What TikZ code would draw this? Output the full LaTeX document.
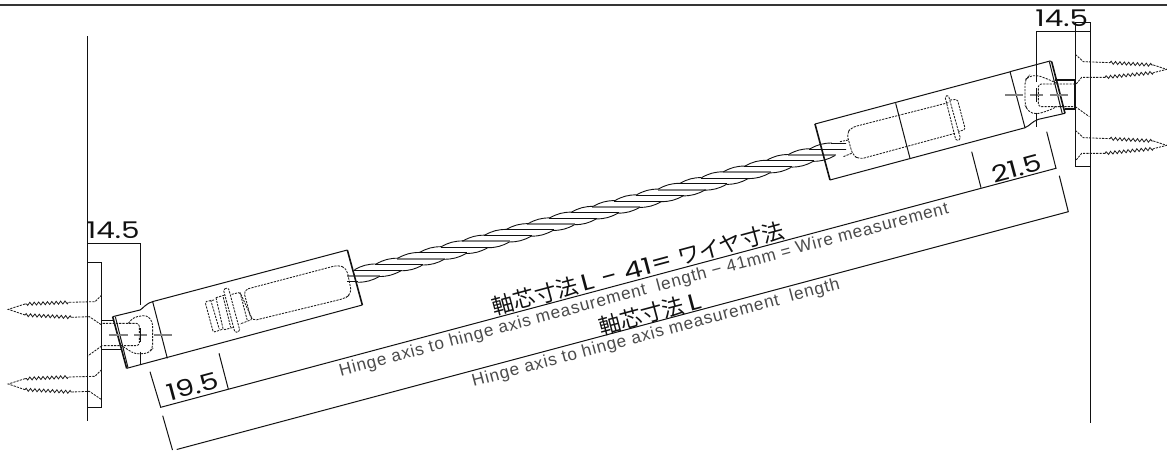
\documentclass[tikz,border=0pt]{standalone}
\usepackage{fontspec}
\usepackage{graphicx}
\usetikzlibrary{decorations.pathmorphing}
\setmainfont{Poppins}
\newfontfamily\jpfont{Noto Sans CJK JP}
\newfontfamily\enfont[LetterSpace=5]{Liberation Sans}
\definecolor{inkc}{HTML}{111111}
\definecolor{hid}{HTML}{1C1C1C}
\definecolor{ent}{HTML}{4A4A4A}
\newcommand{\widen}[1]{\scalebox{1.28}[1]{#1}}
\begin{document}
\begin{tikzpicture}[x=1pt,y=-1pt,
  solid line/.style={draw=inkc,line width=1pt},
  heavy line/.style={draw=inkc,line width=1.6pt},
  hidden line/.style={draw=hid,line width=0.85pt,dash pattern=on 2.2pt off 1.1pt},
  center line/.style={draw=gray,line width=1.3pt},
  teeth/.style={draw=hid,line width=0.8pt,decorate,decoration={zigzag,segment length=4.4pt,amplitude=1.5pt}},
  dimtext/.style={inner sep=0pt,text=inkc,font=\fontsize{23}{23}\selectfont},
  jptext/.style={inner sep=0pt,rotate=15,text=inkc,font=\jpfont\fontsize{22}{22}\selectfont},
  entext/.style={inner sep=0pt,rotate=15,text=ent,font=\enfont\fontsize{17.2}{18}\selectfont}]
\useasboundingbox (0,0) rectangle (1167,450);
\fill[white] (0,0) rectangle (1167,450);
\draw[draw=inkc!85,line width=1.6pt] (0,4.7) -- (1167,4.7);

% walls and plates
\draw[solid line] (87.7,36) -- (87.7,421);
\draw[solid line] (87.7,262.7) -- (101.7,262.7) -- (101.7,407.3) -- (87.7,407.3);
\draw[solid line] (1090,22.3) -- (1090,423);
\draw[solid line] (1090,22.3) -- (1075.3,22.3) -- (1075.3,166.7) -- (1090,166.7);

% wire
\begin{scope}
\clip (347,262) -- (347,295) -- (370,295) -- (846,170) -- (846,135) -- (825,135) -- cycle;
\foreach \i in {-6,...,26}{
  \pgfmathsetmacro\cx{356+21.7*\i}
  \pgfmathsetmacro\cy{276-5.76*\i}
  \pgfmathtruncatemacro\m{mod(\i+30,3)}
  \ifnum\m=0
    \draw[draw=gray,line width=2pt] (\cx-24,\cy) -- (\cx+24,\cy);
  \else
    \draw[draw=inkc,line width=1pt] (\cx-24,\cy) -- (\cx+24,\cy);
  \fi
}
\end{scope}
\foreach \i in {0,...,21}{
  \pgfmathsetmacro\ax{356+21.7*\i}
  \pgfmathsetmacro\ay{276-5.76*\i}
  \pgfmathsetmacro\bx{356+21.7*(\i+1)}
  \pgfmathsetmacro\by{276-5.76*(\i+1)}
  \draw[draw=inkc,line width=0.9pt] (\ax-1.5,\ay-6.3) to[bend left=14] (\bx-1.5,\by-6.3);
  \draw[draw=inkc,line width=0.9pt] (\ax+1.5,\ay+6.3) to[bend right=14] (\bx+1.5,\by+6.3);
}

% left body (zoom 1 coordinates)
\begin{scope}[shift={(0,220)},scale=0.33333]
  \draw[solid line] (457,245) -- (1042,90);
  \draw[solid line] (380,445) -- (1087,255);
  \draw[heavy line] (1042,90) -- (1087,255);
  \foreach \dy in {0,224}{
    \begin{scope}[shift={(0,\dy)}]
      \draw[hidden line] (305,225) -- (285,245) -- (205,247);
      \path[teeth] (205,247) -- (75,252);
      \draw[hidden line] (75,252) -- (25,268) -- (75,285);
      \path[teeth] (75,285) -- (215,292);
      \draw[hidden line] (215,292) -- (268,290) -- (305,315);
    \end{scope}
  }
  \draw[hidden line] (305,378) -- (263,408);
  % dimensions
  \draw[solid line] (263,70) -- (422,70) -- (422,255);
  \draw[solid line] (422,395) -- (422,435);
\end{scope}

% left hinge (zoom 6 coordinates)
\begin{scope}[shift={(90,290)},scale=0.33333]
  \draw[solid line] (68,80) -- (150,60) .. controls (160,55) and (165,42) .. (188,35) -- (232,205);
  \draw[heavy line] (68,80) -- (110,235);
  \draw[solid line] (76,80) -- (114,233);
  \draw[heavy line] (70,92) -- (35,92) -- (35,178) -- (92,178);
  \draw[hidden line,rounded corners=3pt] (38,100) -- (148,100) -- (148,167) -- (38,167);
  \draw[hidden line,rounded corners=4pt] (115,100) -- (130,82) -- (170,75) -- (188,95) -- (188,175) -- (175,190) -- (135,192) -- (115,180) -- (100,170);
  \draw[center line] (58,135) -- (113,135);
  \draw[center line] (133,135) -- (172,135);
  \draw[center line] (192,135) -- (245,135);
  \draw[solid line] (152,115) -- (152,155);
\end{scope}

% left inner parts (zoom 7 coordinates)
\begin{scope}[shift={(190,250)},scale=0.33333]
  \draw[hidden line,rounded corners=5pt] (160,120) -- (445,45) -- (470,55) -- (485,130) -- (465,145) -- (185,213) -- cycle;
  \draw[hidden line,rounded corners=1.5pt] (100,118) -- (115,113) -- (150,243) -- (135,248) -- cycle;
  \draw[hidden line,rounded corners=1.5pt] (125,133) -- (150,127) -- (187,208) -- (150,222);
  \draw[hidden line,rounded corners=1.5pt] (78,143) -- (105,135);
  \draw[hidden line,rounded corners=1.5pt] (78,143) -- (100,240) -- (130,232);
  \draw[hidden line] (100,142) -- (122,232);
  \draw[hidden line,rounded corners=1.5pt] (72,150) -- (45,155) -- (70,247) -- (97,238);
  \draw[hidden line] (62,150) -- (88,238);
  \draw[hidden line] (150,127) -- (172,212);
\end{scope}

% right body (zoom 2 coordinates)
\begin{scope}[shift={(800,0)},scale=0.33333]
  \draw[solid line] (45,372) -- (632,215);
  \draw[solid line] (90,540) -- (676,383);
  \draw[heavy line] (45,372) -- (90,540);
  \draw[solid line] (287,310) -- (330,475);
  \foreach \dy in {0,228}{
    \begin{scope}[shift={(0,\dy)}]
      \draw[hidden line] (826,163) -- (850,185) -- (930,188);
      \path[teeth] (930,188) -- (1060,195);
      \draw[hidden line] (1060,195) -- (1100,208) -- (1060,218);
      \path[teeth] (1060,218) -- (915,232);
      \draw[hidden line] (915,232) -- (845,232) -- (826,255);
    \end{scope}
  }
  \draw[hidden line] (826,320) -- (868,350);
  \draw[solid line] (709,245) -- (709,95) -- (870,95);
  \draw[solid line] (709,338) -- (709,380);
\end{scope}

% right hinge (zoom 9 coordinates)
\begin{scope}[shift={(1000,55)},scale=0.33333]
  \draw[solid line] (30,50) -- (150,18) -- (155,20);
  \draw[heavy line] (155,20) -- (195,175);
  \draw[solid line] (148,20) -- (187,177);
  \draw[solid line] (30,50) -- (75,218) .. controls (90,212) and (95,200) .. (115,193) -- (195,175);
  \draw[heavy line] (165,75) -- (225,75) -- (225,162) -- (195,162);
  \draw[hidden line,rounded corners=3pt] (225,87) -- (115,87) -- (115,155) -- (225,155);
  \draw[hidden line,rounded corners=4pt] (170,85) -- (150,75) -- (110,60) -- (85,65) -- (75,75) -- (75,150) -- (85,170) -- (110,178) -- (150,165) -- (170,155);
  \draw[center line] (15,120) -- (70,120);
  \draw[center line] (90,120) -- (130,120);
  \draw[center line] (150,120) -- (205,120);
  \draw[solid line] (109,100) -- (109,140);
\end{scope}

% right inner parts (zoom 8 coordinates)
\begin{scope}[shift={(820,90)},scale=0.33333]
  \draw[hidden line,rounded corners=5pt] (385,38) -- (95,112) -- (80,130) -- (98,195) -- (118,208) -- (405,130);
  \draw[hidden line,rounded corners=1.5pt] (375,20) -- (385,15) -- (422,148) -- (408,152) -- cycle;
  \draw[hidden line,rounded corners=1.5pt] (390,30) -- (412,28) -- (436,118) -- (415,125);
  \draw[hidden line] (85,150) -- (60,155);
  \draw[hidden line] (95,190) -- (70,200);
\end{scope}

% dimension lines
\coordinate (dimA) at (160.7,407.3);
\coordinate (dimB) at (1056,168.3);
\coordinate (dimC) at (176.7,449.5);
\coordinate (dimD) at (1068.3,211.7);
\draw[solid line] (150,371.7) -- (dimA) -- (dimB) -- (1046.7,131.7);
\draw[solid line] (219,353.3) -- (228.3,389);
\draw[solid line] (971.7,151.7) -- (981,187.7);
\draw[solid line] (162.7,415.7) -- (172.5,450);
\draw[solid line] (dimC) -- (dimD) -- (1059.3,175.7);

% labels
\node[dimtext] (l145a) at (113.3,230.5) {\widen{14.5}};
\node[dimtext] (l145b) at (1061.7,18.5) {\widen{14.5}};
\node[dimtext,rotate=15] (l195) at (192.7,386.5) {\widen{19.5}};
\node[dimtext,rotate=15] (l215) at (1016.7,168.3) {\widen{21.5}};
\node[jptext] (j1) at (638,268.5) {軸芯寸法\hspace{4pt}{\rmfamily\fontsize{23}{23}\selectfont\widen{L − 41=}}\hspace{6pt}ワイヤ寸法};
\node[jptext] (j2) at (650,313.5) {軸芯寸法\hspace{5pt}{\rmfamily\fontsize{23}{23}\selectfont\widen{L}}};
\node[entext] (e1) at (644,290.5) {Hinge axis to hinge axis measurement\ \ length − 41mm = Wire measurement};
\node[entext] (e2) at (656,333.5) {Hinge axis to hinge axis measurement\ \ length};
\end{tikzpicture}
\end{document}
